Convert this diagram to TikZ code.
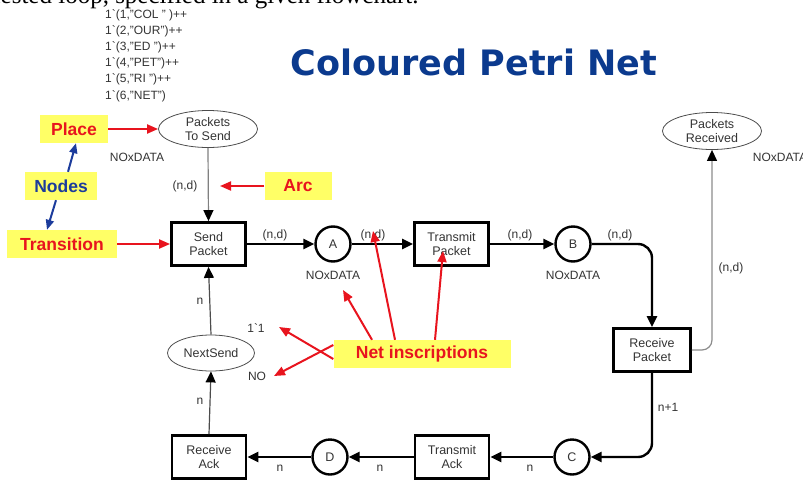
\documentclass[tikz,border=0pt]{standalone}
\usepackage{fontspec}
\setmainfont{Liberation Sans}
\newfontfamily\serifnote{Liberation Serif}
\newfontfamily\titlefont{DejaVu Sans}
\usetikzlibrary{arrows.meta,shapes.geometric}
\definecolor{ttlblue}{HTML}{0B3A8E}
\definecolor{calloutyellow}{HTML}{FFFF66}
\definecolor{calloutred}{HTML}{E8141E}
\definecolor{calloutblue}{HTML}{1C3C9C}
\begin{document}
\begin{tikzpicture}[x=1pt,y=-1pt,
  ellplace/.style={draw=black!70, line width=0.8pt, ellipse, inner sep=0pt, align=center,
    font=\fontsize{12.5}{13.5}\selectfont, text=black!80},
  circplace/.style={draw, circle, line width=2.4pt, minimum size=35pt, inner sep=0pt,
    font=\fontsize{12.5}{14}\selectfont, text=black!80},
  trans/.style={draw, line width=2.8pt, minimum width=74pt, minimum height=43pt, inner sep=0pt,
    align=center, font=\fontsize{12.5}{14}\selectfont, text=black!80},
  thickarc/.style={line width=2.4pt, -{Triangle[length=11pt,width=10pt]}},
  thinarc/.style={line width=1.2pt, -{Triangle[length=11pt,width=10pt,color=black]}},
  lbl/.style={font=\fontsize{12}{14}\selectfont, text=black!80, inner sep=0pt},
  callout/.style={fill=calloutyellow, font=\fontsize{17.5}{20}\selectfont\bfseries, text=calloutred,
    minimum height=28pt, inner sep=0pt},
  redarrow/.style={draw=calloutred, line width=2pt, -{Triangle[length=11pt,width=9pt]}},
  bluearrow/.style={draw=calloutblue, line width=2pt, -{Triangle[length=10pt,width=8pt]}}
]
\useasboundingbox (0,0) rectangle (803,482);

% cut-off line of text at the top
\node[anchor=base west, inner sep=0pt, font=\serifnote\fontsize{25}{27}\selectfont] (toptext) at (-12,3.5) {nested loop, specified in a given flowchart.};

% title
\node[font=\titlefont\bfseries\fontsize{35}{40}\selectfont, text=ttlblue, inner sep=0pt] (title) at (474,62) {Coloured Petri Net};

% initial marking
\node[anchor=north west, inner sep=0pt, align=left, font=\fontsize{12}{16.2}\selectfont, text=black!80] (marking) at (105,9)
 {1\textasciigrave(1,"COL " )++\\
  1\textasciigrave(2,"OUR")++\\
  1\textasciigrave(3,"ED ")++\\
  1\textasciigrave(4,"PET")++\\
  1\textasciigrave(5,"RI ")++\\
  1\textasciigrave(6,"NET")};

% places
\node[ellplace, minimum width=99pt, minimum height=37pt] (pts) at (208,129) {Packets\\To Send};
\node[ellplace, minimum width=99pt, minimum height=37pt] (prcv) at (712,131) {Packets\\Received};
\node[ellplace, minimum width=87pt, minimum height=36pt] (nxt) at (211,353) {NextSend};
\node[circplace] (A) at (333,244) {A};
\node[circplace] (B) at (573,244) {B};
\node[circplace] (C) at (572,457) {C};
\node[circplace] (D) at (330,457) {D};

% transitions
\node[trans] (sp) at (208.5,244) {Send\\Packet};
\node[trans] (tp) at (451.5,244) {Transmit\\Packet};
\node[trans, minimum width=77pt] (rp) at (652,350) {Receive\\Packet};
\node[trans] (ra) at (209,457) {Receive\\Ack};
\node[trans] (ta) at (452,457) {Transmit\\Ack};

% arcs
\draw[thinarc, draw=black!50] (pts.south) -- (sp.north);
\draw[thickarc] (sp) -- (A);
\draw[thickarc] (A) -- (tp);
\draw[thickarc] (tp) -- (B);
\draw[thickarc, rounded corners=14pt] (B.east) -| (rp.north);
\draw[thinarc, draw=black!45, rounded corners=10pt] (rp.east) -| (prcv.south);
\draw[thickarc, rounded corners=14pt] (rp.south) |- (C.east);
\draw[thickarc] (C) -- (ta);
\draw[thickarc] (ta) -- (D);
\draw[thickarc] (D) -- (ra);
\draw[thinarc, draw=black!70] (ra.north) -- (nxt.south);
\draw[thinarc, draw=black!70] (nxt.north) -- (sp.south);

% inscriptions
\node[lbl] (l1) at (185,186) {(n,d)};
\node[lbl] (l2) at (275,235) {(n,d)};
\node[lbl] (l3) at (373,235) {(n,d)};
\node[lbl] (l4) at (520,235) {(n,d)};
\node[lbl] (l5) at (620,235) {(n,d)};
\node[lbl] (l6) at (731,268) {(n,d)};
\node[lbl] (l7) at (668,407) {n+1};
\node[lbl] (l8) at (530,468) {n};
\node[lbl] (l9) at (380,468) {n};
\node[lbl] (l10) at (280,468) {n};
\node[lbl] (l11) at (200,401) {n};
\node[lbl] (l12) at (200,301) {n};
\node[lbl] (cs1) at (137,157) {NOxDATA};
\node[lbl] (cs2) at (333,275) {NOxDATA};
\node[lbl] (cs3) at (573,275) {NOxDATA};
\node[lbl] (cs4) at (780,157) {NOxDATA};
\node[lbl] (cs5) at (572,488) {NO};
\node[lbl] (cs6) at (330,488) {NO};
\node[lbl] (cs7) at (257,376) {NO};
\node[lbl] (im) at (256,328) {1\textasciigrave1};

% callouts
\node[callout, minimum width=68pt] (place) at (74,129) {Place};
\node[callout, minimum width=72pt, text=calloutblue] (nodes) at (61,186) {Nodes};
\node[callout, minimum width=110pt] (transition) at (62,244) {Transition};
\node[callout, minimum width=67pt] (arc) at (298,186) {Arc};
\node[callout, minimum width=177pt] (netins) at (422,354) {Net inscriptions};

\coordinate (arcT) at (220,186);
\coordinate (t1) at (279,327);
\coordinate (t2) at (274,376);
\coordinate (t3) at (343,290);
\coordinate (t4) at (373,231);
\coordinate (t5) at (443,251);

\draw[redarrow] (place.east) -- (pts.west);
\draw[redarrow] (arc.west) -- (arcT);
\draw[redarrow] (transition.east) -- (sp.west);
\draw[bluearrow] ([xshift=7pt]nodes.north) -- ([xshift=2pt]place.south);
\draw[bluearrow] ([xshift=-5pt]nodes.south) -- ([xshift=-15pt]transition.north);

\draw[redarrow] ([yshift=-5pt]netins.west) -- (t1);
\draw[redarrow] ([yshift=9pt]netins.west) -- (t2);
\draw[redarrow] ([xshift=-50pt]netins.north) -- (t3);
\draw[redarrow] ([xshift=-27pt]netins.north) -- (t4);
\draw[redarrow] ([xshift=13pt]netins.north) -- (t5);
\end{tikzpicture}
\end{document}
